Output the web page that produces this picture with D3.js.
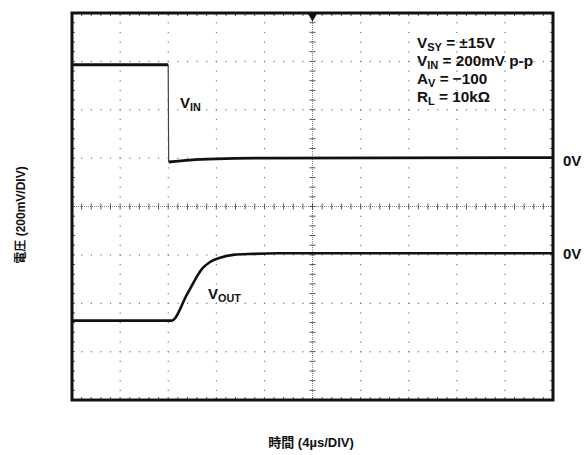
<!DOCTYPE html>
<html>
<head>
<meta charset="utf-8">
<style>
  body { margin: 0; background: #fff; }
  svg text { font-family: 'Liberation Sans', Arial, 'Noto Sans CJK JP', sans-serif; font-weight: bold; fill: #111; }
  .cjk { font-family: 'Liberation Sans', 'Noto Sans CJK JP', sans-serif; }
</style>
</head>
<body>
<div id="chart"></div>
<script src="https://cdn.jsdelivr.net/npm/d3@7"></script>
<script>
// trace data, in scope divisions (x: 4us/div, y: 200mV/div)
const vinHighT = [0, 2.0];
const vinHighV = [2.93, 2.93];
const vinLowT = [2.01, 2.45, 3.0, 4.0, 10];
const vinLowV = [0.92, 0.96, 0.985, 1.0, 1.01];
const voutT = [0, 2.07, 2.4, 2.72, 2.87, 3.08, 3.35, 3.76, 4.28, 10];
const voutV = [-2.36, -2.36, -1.80, -1.27, -1.147, -1.058, -1.0, -0.98, -0.967, -0.965];

const zeroLabels = [{ v: 1.01, text: "0V" }, { v: -0.965, text: "0V" }];
const notes = [
  ["V", "SY", " = \u00b115V"],
  ["V", "IN", " = 200mV p-p"],
  ["A", "V", " = \u2212100"],
  ["R", "L", " = 10k\u03a9"]
];
const yTitle = "電圧 (200mV/DIV)";
const xTitle = "時間 (4\u00b5s/DIV)";

var width = 586, height = 455;
var svg = d3.select("#chart").append("svg")
  .attr("width", width).attr("height", height);

var x = d3.scaleLinear().domain([0, 10]).range([72, 553]);
var y = d3.scaleLinear().domain([-4, 4]).range([400, 13]);

var grid = svg.append("g");
var minor = d3.range(0, 50.5).map(function(i) { return i / 5; });
var minorY = d3.range(0, 40.5).map(function(i) { return i / 5 - 4; });

// dotted graticule lines
d3.range(1, 10).filter(function(k) { return k !== 5; }).forEach(function(k) {
  grid.selectAll(null).data(minorY).enter().append("rect")
    .attr("x", x(k) - 0.5).attr("y", function(d) { return y(d) - 0.5; })
    .attr("width", 1.2).attr("height", 1.2).attr("fill", "#777");
});
d3.range(-3, 4).filter(function(k) { return k !== 0; }).forEach(function(k) {
  grid.selectAll(null).data(minor).enter().append("rect")
    .attr("x", function(d) { return x(d) - 0.5; }).attr("y", y(k) - 0.5)
    .attr("width", 1.2).attr("height", 1.2).attr("fill", "#777");
});

// center axes
grid.append("line").attr("x1", x(0)).attr("x2", x(10)).attr("y1", y(0)).attr("y2", y(0))
  .attr("stroke", "#888").attr("stroke-width", 1).attr("stroke-dasharray", "1,1");
grid.append("line").attr("x1", x(5)).attr("x2", x(5)).attr("y1", y(-4)).attr("y2", y(4))
  .attr("stroke", "#888").attr("stroke-width", 1).attr("stroke-dasharray", "1,1");
grid.selectAll(null).data(minor).enter().append("line")
  .attr("x1", function(d) { return x(d); }).attr("x2", function(d) { return x(d); })
  .attr("y1", y(0) - 3).attr("y2", y(0) + 3).attr("stroke", "#555").attr("stroke-width", 1);
grid.selectAll(null).data(minorY).enter().append("line")
  .attr("y1", function(d) { return y(d); }).attr("y2", function(d) { return y(d); })
  .attr("x1", x(5) - 3).attr("x2", x(5) + 3).attr("stroke", "#555").attr("stroke-width", 1);

// edge ticks
grid.selectAll(null).data(minor).enter().append("line")
  .attr("x1", function(d) { return x(d); }).attr("x2", function(d) { return x(d); })
  .attr("y1", y(4)).attr("y2", y(4) + 3).attr("stroke", "#555");
grid.selectAll(null).data(minor).enter().append("line")
  .attr("x1", function(d) { return x(d); }).attr("x2", function(d) { return x(d); })
  .attr("y1", y(-4)).attr("y2", y(-4) - 3).attr("stroke", "#555");
grid.selectAll(null).data(minorY).enter().append("line")
  .attr("y1", function(d) { return y(d); }).attr("y2", function(d) { return y(d); })
  .attr("x1", x(0)).attr("x2", x(0) + 3).attr("stroke", "#555");
grid.selectAll(null).data(minorY).enter().append("line")
  .attr("y1", function(d) { return y(d); }).attr("y2", function(d) { return y(d); })
  .attr("x1", x(10)).attr("x2", x(10) - 3).attr("stroke", "#555");

// traces
var line = d3.line().x(function(d) { return x(d[0]); }).y(function(d) { return y(d[1]); });
var vinHigh = d3.zip(vinHighT, vinHighV);
var vinLow = d3.zip(vinLowT, vinLowV);
svg.append("path").attr("d", line([vinHigh[1], vinLow[0]]))
  .attr("fill", "none").attr("stroke", "#444").attr("stroke-width", 1.2);
svg.append("path").attr("d", line(vinHigh))
  .attr("fill", "none").attr("stroke", "#111").attr("stroke-width", 2.8);
svg.append("path").attr("d", line.curve(d3.curveMonotoneX)(vinLow))
  .attr("fill", "none").attr("stroke", "#111").attr("stroke-width", 2.8);
svg.append("path").attr("d", line.curve(d3.curveMonotoneX)(d3.zip(voutT, voutV)))
  .attr("fill", "none").attr("stroke", "#111").attr("stroke-width", 2.6);

// frame
svg.append("rect").attr("x", x(0)).attr("y", y(4)).attr("width", x(10) - x(0)).attr("height", y(-4) - y(4))
  .attr("fill", "none").attr("stroke", "#111").attr("stroke-width", 3);
svg.append("path").attr("d", d3.symbol(d3.symbolTriangle, 40)())
  .attr("transform", "translate(" + x(5) + "," + (y(4) + 3) + ") rotate(180)").attr("fill", "#111");

// labels
function subText(sel, parts, size) {
  sel.append("tspan").text(parts[0]);
  sel.append("tspan").attr("dy", 3).attr("font-size", size * 0.72).text(parts[1]);
  if (parts[2]) sel.append("tspan").attr("dy", -3).text(parts[2]);
}
subText(svg.append("text").attr("x", 180).attr("y", 108).attr("font-size", 15), ["V", "IN"], 15);
subText(svg.append("text").attr("x", 208).attr("y", 299).attr("font-size", 15), ["V", "OUT"], 15);
notes.forEach(function(n, i) {
  subText(svg.append("text").attr("x", 417).attr("y", 48 + i * 18).attr("font-size", 15.3), n, 15.3);
});
svg.selectAll(".zero").data(zeroLabels).enter().append("text")
  .attr("x", 563).attr("y", function(d, i) { return y(d.v) + (i ? 6 : 8); })
  .attr("font-size", 15).text(function(d) { return d.text; });

svg.append("text").attr("class", "cjk").attr("font-size", 12).attr("text-anchor", "middle")
  .attr("transform", "translate(25,215) rotate(-90)").text(yTitle);
svg.append("text").attr("class", "cjk").attr("font-size", 13).attr("text-anchor", "middle")
  .attr("x", 311).attr("y", 447).text(xTitle);
</script>
</body>
</html>
